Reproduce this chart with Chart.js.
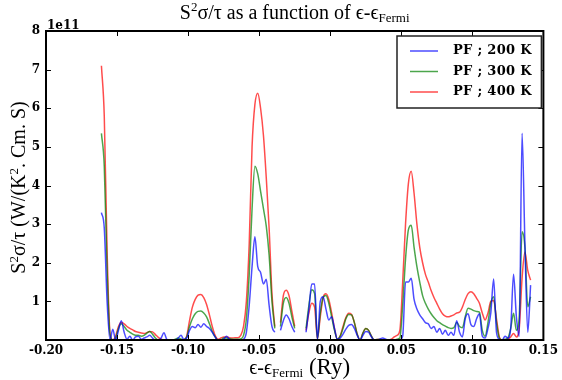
<!DOCTYPE html>
<html>
<head>
<meta charset="utf-8">
<script src="https://cdn.jsdelivr.net/npm/chart.js@4.4.0/dist/chart.umd.min.js"></script>
<style>
  html, body { margin: 0; padding: 0; background: #fff; }
  #wrap { width: 562px; height: 380px; }
</style>
</head>
<body>
<div id="wrap"><canvas id="pfChart" width="562" height="380"></canvas></div>
<script>
// energy grid (Ry), relative to the Fermi level
const energy = [
  -0.161,-0.159,-0.157,-0.155,-0.153,-0.151,-0.149,-0.147,-0.145,-0.143,
  -0.141,-0.139,-0.137,-0.135,-0.133,-0.131,-0.129,-0.127,-0.125,-0.123,
  -0.121,-0.119,-0.117,-0.115,-0.113,-0.111,-0.109,-0.107,-0.105,-0.103,
  -0.101,-0.099,-0.097,-0.095,-0.093,-0.091,-0.089,-0.087,-0.085,-0.083,
  -0.081,-0.079,-0.077,-0.075,-0.073,-0.071,-0.069,-0.067,-0.065,-0.063,
  -0.061,-0.059,-0.057,-0.055,-0.053,-0.051,-0.049,-0.047,-0.045,-0.043,
  -0.041,-0.039,-0.037,-0.035,-0.033,-0.031,-0.029,-0.027,-0.025,-0.023,
  -0.021,-0.019,-0.017,-0.015,-0.013,-0.011,-0.009,-0.007,-0.005,-0.003,
  -0.001,0.001,0.003,0.005,0.007,0.009,0.011,0.013,0.015,0.017,
  0.019,0.021,0.023,0.025,0.027,0.029,0.031,0.033,0.035,0.037,
  0.039,0.041,0.043,0.045,0.047,0.049,0.051,0.053,0.055,0.057,
  0.059,0.061,0.063,0.065,0.067,0.069,0.071,0.073,0.075,0.077,
  0.079,0.081,0.083,0.085,0.087,0.089,0.091,0.093,0.095,0.097,
  0.099,0.101,0.103,0.105,0.107,0.109,0.111,0.113,0.115,0.117,
  0.119,0.121,0.123,0.125,0.127,0.129,0.131,0.133,0.135,0.137,
  0.139,0.141
];

// S^2 sigma / tau, units of 1e11
const pf200 = [
  3.3, 2.9, 1.0, 0.0, 0.28, 0.0, 0.25, 0.5, 0.2, 0.02,
  0.1, 0.0, 0.08, 0.1, 0.02, 0.05, 0.08, 0.12, 0.05, 0.0,
  0.0, 0.05, 0.19, 0.02, 0.0, 0.0, 0.0, 0.05, 0.12, 0.02,
  0.05, 0.25, 0.35, 0.32, 0.4, 0.33, 0.42, 0.35, 0.3, 0.2,
  0.08, 0.0, 0.0, 0.02, 0.1, 0.02, 0.0, 0.0, 0.0, 0.0,
  0.02, 0.2, 0.9, 1.9, 2.67, 1.9, 1.75, 1.45, 1.57, 0.9,
  0.35, 0.2, null, 0.25, 0.5, 0.65, 0.55, 0.35, 0.2, null,
  null, null, 0.2, 0.8, 1.45, 1.45, 0.02, 1.0, 1.12, 0.8,
  0.52, 0.6, 0.3, 0.02, 0.05, 0.15, 0.28, 0.38, 0.4, 0.3,
  0.12, 0.0, 0.12, 0.22, 0.2, 0.08, 0.0, 0.0, 0.03, 0.05,
  0.02, 0.0, 0.0, 0.0, 0.0, 0.0, 0.1, 1.5, 1.5, 1.6,
  1.05, 0.8, 0.65, 0.55, 0.45, 0.42, 0.3, 0.35, 0.2, 0.3,
  0.15, 0.25, 0.12, 0.2, 0.12, 0.5, 0.2, 0.08, 0.55, 0.68,
  0.4, 0.35, 0.55, 0.68, 0.1, 0.05, 0.3, 0.7, 1.58, 0.2,
  0.02, 0.0, 0.1, 0.05, 0.3, 1.7, 0.6, 0.1, 5.35, 2.5,
  0.2, 1.42
];
const pf300 = [
  5.35, 4.5, 1.8, 0.15, 0.0, 0.05, 0.3, 0.42, 0.35, 0.25,
  0.2, 0.15, 0.12, 0.12, 0.1, 0.12, 0.18, 0.22, 0.15, 0.05,
  0.0, 0.0, 0.0, 0.0, 0.0, 0.0, 0.02, 0.05, 0.03, 0.0,
  0.08, 0.35, 0.55, 0.68, 0.74, 0.75, 0.7, 0.6, 0.42, 0.22,
  0.08, 0.0, 0.0, 0.05, 0.05, 0.03, 0.02, 0.02, 0.02, 0.03,
  0.12, 0.55, 1.7, 3.4, 4.5, 4.3, 3.85, 3.4, 2.95, 2.2,
  1.0, 0.3, null, 0.35, 0.95, 1.1, 0.95, 0.6, 0.3, null,
  null, null, 0.3, 0.9, 1.3, 1.2, 0.03, 0.7, 1.1, 1.15,
  0.95, 0.6, 0.25, 0.02, 0.1, 0.3, 0.55, 0.66, 0.65, 0.45,
  0.15, 0.0, 0.18, 0.3, 0.25, 0.1, 0.0, 0.01, 0.01, 0.0,
  0.0, 0.0, 0.0, 0.0, 0.02, 0.05, 0.9, 2.1, 2.85, 2.97,
  2.4, 1.9, 1.5, 1.15, 0.95, 0.8, 0.68, 0.58, 0.5, 0.45,
  0.4, 0.36, 0.32, 0.3, 0.32, 0.45, 0.35, 0.32, 0.6, 0.82,
  0.8, 0.76, 0.74, 0.72, 0.25, 0.1, 0.45, 0.95, 1.12, 0.45,
  0.05, 0.0, 0.02, 0.05, 0.3, 0.69, 0.25, 0.6, 2.8, 2.4,
  0.86, 1.12
];
const pf400 = [
  7.1, 5.8, 2.3, 0.2, 0.0, 0.1, 0.35, 0.45, 0.42, 0.35,
  0.3, 0.26, 0.22, 0.2, 0.18, 0.17, 0.19, 0.22, 0.21, 0.14,
  0.07, 0.02, 0.0, 0.0, 0.0, 0.0, 0.0, 0.0, 0.0, 0.0,
  0.1, 0.5, 0.85, 1.05, 1.16, 1.18, 1.1, 0.92, 0.65, 0.35,
  0.12, 0.02, 0.05, 0.08, 0.08, 0.06, 0.05, 0.06, 0.06, 0.12,
  0.35, 1.0, 2.5, 5.0, 6.1, 6.39, 6.0, 5.3, 4.2, 2.9,
  1.2, 0.35, null, 0.45, 1.15, 1.29, 1.15, 0.75, 0.35, null,
  null, null, 0.25, 0.7, 0.95, 0.85, 0.03, 0.6, 1.1, 1.2,
  1.05, 0.7, 0.3, 0.02, 0.1, 0.35, 0.58, 0.69, 0.66, 0.45,
  0.15, 0.0, 0.18, 0.3, 0.25, 0.1, 0.0, 0.01, 0.01, 0.0,
  0.0, 0.0, 0.02, 0.08, 0.12, 0.25, 1.5, 3.0, 4.05, 4.37,
  3.8, 3.0, 2.4, 2.0, 1.7, 1.5, 1.28, 1.1, 0.95, 0.8,
  0.68, 0.62, 0.6, 0.62, 0.65, 0.7, 0.72, 0.85, 1.05, 1.2,
  1.25, 1.2, 1.08, 0.95, 0.7, 0.52, 0.7, 1.0, 1.02, 0.55,
  0.08, 0.0, 0.0, 0.02, 0.08, 0.17, 0.08, 0.3, 1.6, 2.28,
  1.8, 1.55
];

const seriesLabels = ['PF ; 200 K', 'PF ; 300 K', 'PF ; 400 K'];
const xTicks = [-0.20, -0.15, -0.10, -0.05, 0.00, 0.05, 0.10, 0.15];
const xTickLabels = ['-0.20', '-0.15', '-0.10', '-0.05', '0.00', '0.05', '0.10', '0.15'];
const yTicks = [1, 2, 3, 4, 5, 6, 7, 8];

const SERIF = "'Liberation Serif', 'DejaVu Serif', serif";
const BOLD_SERIF = "'DejaVu Serif', serif";

function toPoints(values) {
    return energy.map((e, i) => ({ x: e, y: values[i] }));
}

// draws text made of pieces (for sub/superscripts), centred on cx
function drawParts(ctx, parts, cx, baseY) {
    let total = 0;
    parts.forEach(p => { ctx.font = p.font; total += ctx.measureText(p.text).width; });
    let x = cx - total / 2;
    parts.forEach(p => {
        ctx.font = p.font;
        ctx.fillText(p.text, x, baseY + (p.dy || 0));
        x += ctx.measureText(p.text).width;
    });
}

const decorPlugin = {
    id: 'decor',
    afterDraw(chart) {
        const { ctx, chartArea: a, scales: { x, y } } = chart;
        ctx.save();
        ctx.fillStyle = '#000';
        ctx.strokeStyle = '#000';

        // inward ticks on all four sides
        ctx.lineWidth = 1;
        ctx.beginPath();
        xTicks.forEach(v => {
            const px = Math.round(x.getPixelForValue(v)) + 0.5;
            ctx.moveTo(px, a.bottom); ctx.lineTo(px, a.bottom - 5);
            ctx.moveTo(px, a.top); ctx.lineTo(px, a.top + 5);
        });
        yTicks.forEach(v => {
            const py = Math.round(y.getPixelForValue(v)) + 0.5;
            ctx.moveTo(a.left, py); ctx.lineTo(a.left + 5, py);
            ctx.moveTo(a.right, py); ctx.lineTo(a.right - 5, py);
        });
        ctx.stroke();

        // frame
        ctx.lineWidth = 2;
        ctx.strokeRect(a.left, a.top, a.right - a.left, a.bottom - a.top);

        // offset text
        ctx.textAlign = 'left';
        ctx.textBaseline = 'alphabetic';
        ctx.font = 'bold 12px ' + BOLD_SERIF;
        ctx.fillText('1e11', a.left + 1, a.top - 2);

        // title
        const cx = (a.left + a.right) / 2;
        drawParts(ctx, [
            { text: 'S', font: '20px ' + SERIF },
            { text: '2', font: '13px ' + SERIF, dy: -8 },
            { text: 'σ/τ as a function of ϵ-ϵ', font: '20px ' + SERIF },
            { text: 'Fermi', font: '13px ' + SERIF, dy: 3 }
        ], cx, 19);

        // x axis title
        drawParts(ctx, [
            { text: 'ϵ-ϵ', font: '20px ' + SERIF },
            { text: 'Fermi', font: '13px ' + SERIF, dy: 3 },
            { text: ' (Ry)', font: '23px ' + SERIF }
        ], cx + 5, 374);

        // y axis title
        ctx.save();
        ctx.translate(25, (a.top + a.bottom) / 2 + 2);
        ctx.rotate(-Math.PI / 2);
        drawParts(ctx, [
            { text: 'S', font: '20px ' + SERIF },
            { text: '2', font: '13px ' + SERIF, dy: -7 },
            { text: 'σ/τ (W/(K', font: '20px ' + SERIF },
            { text: '2', font: '13px ' + SERIF, dy: -7 },
            { text: '. Cm. S)', font: '20px ' + SERIF }
        ], 0, 0);
        ctx.restore();

        // legend box, upper right
        const lx = 397, ly = 36, lw = a.right - 2 - lx, lh = 72;
        ctx.fillStyle = '#fff';
        ctx.fillRect(lx, ly, lw, lh);
        ctx.lineWidth = 1.5;
        ctx.strokeStyle = '#222';
        ctx.strokeRect(lx, ly, lw, lh);
        ctx.textBaseline = 'middle';
        ctx.font = 'bold 13px ' + BOLD_SERIF;
        if ('letterSpacing' in ctx) ctx.letterSpacing = '0.3px';
        chart.data.datasets.forEach((ds, i) => {
            const rowY = ly + 15 + i * 20.5;
            ctx.strokeStyle = ds.borderColor;
            ctx.lineWidth = 1.5;
            ctx.beginPath();
            ctx.moveTo(lx + 13, rowY);
            ctx.lineTo(lx + 41, rowY);
            ctx.stroke();
            ctx.fillStyle = '#000';
            ctx.fillText(ds.label, lx + 56, rowY);
        });
        ctx.restore();
    }
};

let ctx = document.getElementById('pfChart').getContext('2d');

let pfChart = new Chart(ctx, {
    type: 'line',
    data: {
        datasets: [
            { label: seriesLabels[0], data: toPoints(pf200), borderColor: 'rgba(0, 0, 255, 0.7)' },
            { label: seriesLabels[1], data: toPoints(pf300), borderColor: 'rgba(0, 128, 0, 0.7)' },
            { label: seriesLabels[2], data: toPoints(pf400), borderColor: 'rgba(255, 0, 0, 0.7)' }
        ]
    },
    options: {
        responsive: false,
        animation: false,
        devicePixelRatio: 1,
        spanGaps: false,
        datasets: {
            line: {
                borderWidth: 1.5,
                pointRadius: 0,
                fill: false,
                cubicInterpolationMode: 'monotone'
            }
        },
        layout: { padding: { top: 31, right: 15, left: 0, bottom: 0 } },
        plugins: {
            legend: { display: false },
            title: { display: false },
            tooltip: { enabled: false }
        },
        scales: {
            x: {
                type: 'linear',
                min: -0.2,
                max: 0.15,
                afterBuildTicks: s => { s.ticks = xTicks.map(v => ({ value: v })); },
                afterFit: s => { s.height = 40; },
                ticks: {
                    autoSkip: false,
                    maxRotation: 0,
                    padding: 4,
                    color: '#000',
                    font: { family: BOLD_SERIF, weight: 'bold', size: 12 },
                    callback: (v, i) => xTickLabels[i]
                },
                grid: { display: false, drawTicks: false },
                border: { display: false }
            },
            y: {
                min: 0,
                max: 8,
                afterBuildTicks: s => { s.ticks = yTicks.map(v => ({ value: v })); },
                afterFit: s => { s.width = 46; },
                ticks: {
                    padding: 6,
                    color: '#000',
                    font: { family: BOLD_SERIF, weight: 'bold', size: 12 },
                    callback: v => String(v)
                },
                grid: { display: false, drawTicks: false },
                border: { display: false }
            }
        }
    },
    plugins: [decorPlugin]
});
</script>
</body>
</html>
